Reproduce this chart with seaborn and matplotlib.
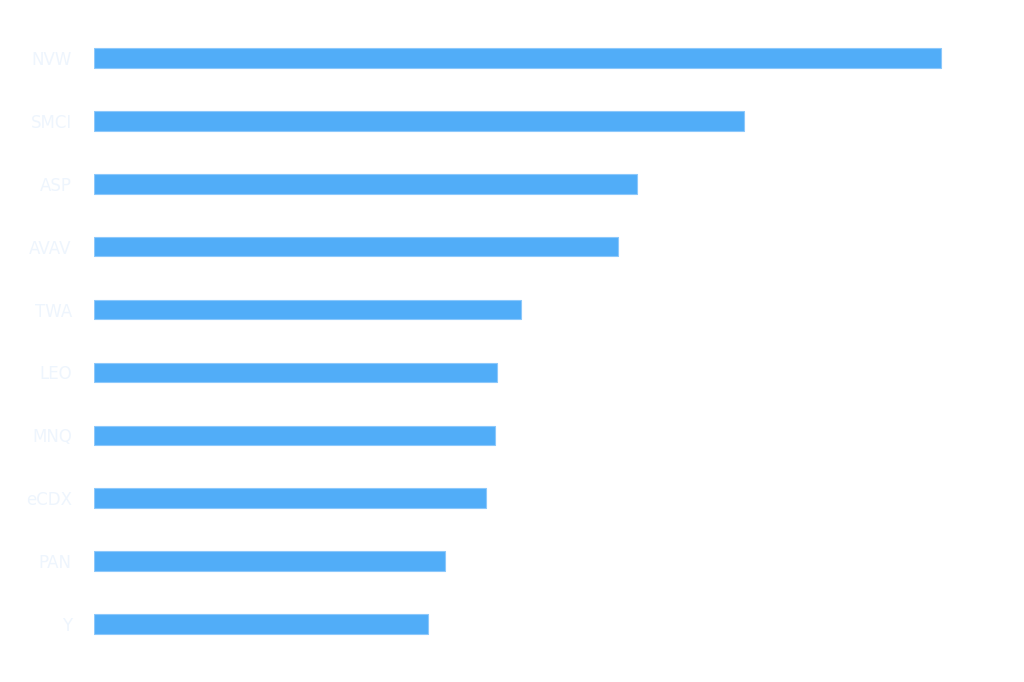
import pandas as pd
import matplotlib
matplotlib.use('Agg')
import matplotlib.pyplot as plt
import seaborn as sns

# Ranking of tickers (labels drawn in a very pale colour, as in the original)
labels = ['NVW', 'SMCI', 'ASP', 'AVAV', 'TWA', 'LEO', 'MNQ', 'eCDX', 'PAN', 'Y']
values = [848, 650, 543, 524, 427, 403, 401, 392, 351, 334]

df = pd.DataFrame({'label': labels, 'value': values})

sns.set_style('white')
plt.rcParams['font.family'] = ['DejaVu Sans']

fig = plt.figure(figsize=(10.24, 6.82), dpi=100)
ax = fig.add_axes([0.0918, 0.039, 0.869, 0.922])

sns.barplot(data=df, x='value', y='label', color='#51adf8', width=0.31,
            edgecolor='#8cc8fb', linewidth=0.8, saturation=1, ax=ax)

ax.set_xlim(0, max(values) * 1.05)
ax.set_ylim(len(labels) - 0.5, -0.5)
ax.set_xlabel('')
ax.set_ylabel('')
ax.set_xticks([])
ax.tick_params(axis='y', length=0, labelsize=12, labelcolor='#eef5fd', pad=16)
for s in ax.spines.values():
    s.set_visible(False)

fig.savefig('out.png', dpi=100, facecolor='white')
